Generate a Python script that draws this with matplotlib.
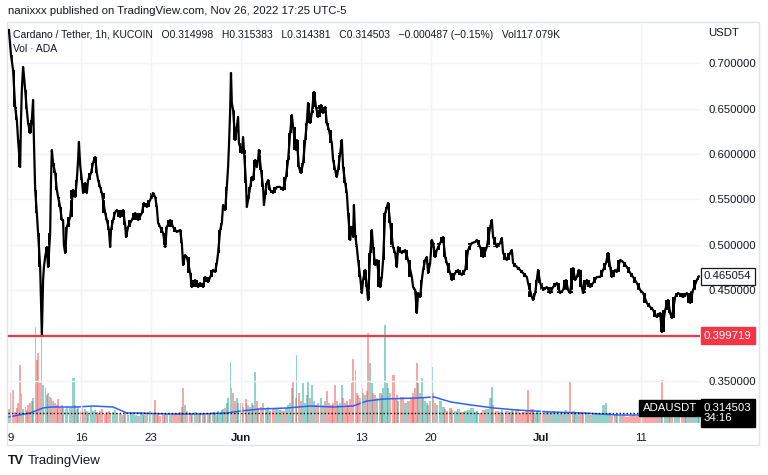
import numpy as np
import matplotlib
matplotlib.use("Agg")
import matplotlib.pyplot as plt
import matplotlib.dates as mdates
from matplotlib.patches import Rectangle
from datetime import datetime, timedelta

plt.rcParams['font.family'] = ['Liberation Sans', 'DejaVu Sans']

start = datetime(2022, 5, 9)

# ADA/USDT 1h, sampled: hours after 2022-05-09 00:00 and close (USDT)
hours = [
    -5, -2, 0, 5, 10, 14, 17, 22, 24, 26, 29, 31, 34, 38, 41, 46,
    50, 53, 55, 58, 62, 65, 70, 72, 74, 77, 79, 82, 86, 89, 94,
    96, 98, 101, 106, 110, 113, 118, 122, 125, 127, 130, 134, 142, 149, 154,
    158, 161, 163, 166, 170, 173, 178, 182, 185, 192, 197, 202, 206, 209, 214,
    218, 226, 230, 235, 238, 240, 245, 250, 254, 262, 269, 274, 276, 281, 290,
    298, 305, 314, 319, 326, 334, 341, 346, 350, 353, 358, 365, 370, 374, 382,
    389, 398, 406, 410, 413, 418, 422, 430, 434, 442, 449, 454, 461, 466, 473,
    478, 485, 490, 494, 497, 502, 506, 509,
    514, 518, 521, 523, 526, 528, 530, 533, 538, 542, 545, 547, 554, 557, 559,
    564, 566, 569, 574, 578, 581, 586, 590, 593, 595, 600,
    605, 607, 610, 614, 617, 622, 629, 638, 646, 653, 660, 665, 670, 674, 677,
    684, 686, 691, 696, 701, 706, 710, 713, 718, 722, 727, 732, 737, 744, 749,
    754, 758, 763, 770, 773, 778, 782, 785, 790, 794, 797, 802, 806, 809, 814,
    816, 818, 821, 823, 826, 830, 833, 838, 842, 845, 850, 854, 857, 862, 866,
    869, 874, 878, 886, 890, 893, 898, 902, 905, 910, 917, 922, 926, 929,
    938, 946, 953, 962, 965, 970, 974, 977, 982, 986, 989, 994, 998, 1001, 1006,
    1010, 1013, 1018, 1022, 1030,
    1037, 1042, 1046, 1054, 1058, 1066, 1073, 1082, 1090, 1097, 1106, 1114, 1118,
    1126, 1133, 1142, 1150, 1154, 1157, 1166, 1174, 1178, 1181, 1190, 1198, 1202,
    1205, 1214, 1222,
    1229, 1238, 1241, 1250, 1253, 1258, 1262, 1265, 1270, 1277, 1286, 1294, 1301,
    1310, 1318, 1325, 1332, 1337, 1342, 1349, 1354, 1358, 1363, 1370, 1373, 1382,
    1390, 1397, 1406, 1414,
    1421, 1428, 1433, 1438, 1442, 1450, 1454, 1462, 1469, 1478, 1486, 1493, 1502,
    1510, 1517, 1526, 1534, 1541, 1550, 1558, 1562, 1570, 1577, 1582, 1586, 1594,
    1601, 1613, 1622, 1630, 1637, 1646, 1651,
]
close = [
    0.7367, 0.7202, 0.7091, 0.6926, 0.6518, 0.6375, 0.6154, 0.5856, 0.6375, 0.6706,
    0.6959, 0.6871, 0.6706, 0.6485, 0.6342, 0.6231,
    0.6375, 0.6595, 0.6154, 0.5603, 0.5349, 0.5129, 0.4754, 0.4390, 0.3997, 0.4610,
    0.4754, 0.4864, 0.4974, 0.4754, 0.5129,
    0.5713, 0.6044, 0.5901, 0.5790, 0.5603, 0.5526, 0.5415, 0.5272, 0.5272, 0.4996,
    0.4908, 0.5195, 0.5305, 0.5603, 0.5526,
    0.5713, 0.5934, 0.6132, 0.5879, 0.5713, 0.5570, 0.5680, 0.5570, 0.5713, 0.5790,
    0.5901, 0.5967, 0.5790, 0.5713, 0.5636, 0.5570, 0.5349, 0.5272, 0.5162, 0.4974,
    0.5162, 0.5272, 0.5360, 0.5382, 0.5305, 0.5382, 0.5217, 0.5085, 0.5195, 0.5272,
    0.5349, 0.5272, 0.5349, 0.5460, 0.5415, 0.5493, 0.5570, 0.5526, 0.5415, 0.5239,
    0.5195, 0.5129, 0.4974, 0.5195, 0.5272, 0.5195, 0.5140, 0.5162, 0.5018, 0.4776,
    0.4886, 0.4864, 0.4688, 0.4533, 0.4610, 0.4533, 0.4577, 0.4533, 0.4644, 0.4588,
    0.4644, 0.4721, 0.4699, 0.4798, 0.4908, 0.5162, 0.5239, 0.5437,
    0.5382, 0.5636, 0.5856, 0.6077, 0.6485, 0.6893, 0.6562, 0.6485, 0.6154, 0.6298,
    0.6408, 0.6121, 0.6011, 0.6187, 0.6044, 0.5680, 0.5415, 0.5493, 0.5636, 0.5746,
    0.5713, 0.5934, 0.5856, 0.5934, 0.6044, 0.5823,
    0.5636, 0.5437, 0.5548, 0.5680, 0.5713, 0.5603, 0.5570, 0.5636, 0.5636, 0.5603,
    0.5746, 0.5934, 0.6231, 0.6430, 0.6298, 0.6044, 0.6154, 0.5856, 0.5790, 0.5901,
    0.6154, 0.6342, 0.6562, 0.6342, 0.6452, 0.6684, 0.6518, 0.6408, 0.6540, 0.6452,
    0.6518, 0.6342, 0.6264, 0.6121, 0.5934, 0.5823, 0.5746, 0.5823, 0.6011, 0.6154,
    0.5856, 0.5680, 0.5570, 0.5349, 0.5052,
    0.5195, 0.5195, 0.5085, 0.5437, 0.5107, 0.4974, 0.4831, 0.4644, 0.4467, 0.4610,
    0.4721, 0.4533, 0.4390, 0.4908, 0.5162, 0.4974, 0.4776, 0.4831, 0.4533, 0.4644,
    0.4831, 0.5349, 0.5415, 0.5460, 0.5239, 0.4974, 0.4908, 0.4754, 0.4974,
    0.4908, 0.4941, 0.4831, 0.4644, 0.4533, 0.4500, 0.4247, 0.4467, 0.4423, 0.4610,
    0.4721, 0.4831, 0.4864, 0.4688, 0.4798, 0.5052, 0.5018, 0.4864, 0.4941, 0.5018,
    0.5085, 0.4864, 0.4798, 0.4688, 0.4610, 0.4688, 0.4721, 0.4666, 0.4721, 0.4941,
    0.5018, 0.5029, 0.5052, 0.4974, 0.4864, 0.4974, 0.5195, 0.5272, 0.5085, 0.4974,
    0.5018, 0.5074, 0.4908, 0.4831, 0.4908, 0.4941, 0.4798, 0.4754, 0.4721,
    0.4688, 0.4644, 0.4577, 0.4423, 0.4390, 0.4467, 0.4610, 0.4721, 0.4577, 0.4500,
    0.4533, 0.4467, 0.4533, 0.4577, 0.4467, 0.4500, 0.4610, 0.4500, 0.4467, 0.4743,
    0.4610, 0.4644, 0.4721, 0.4533, 0.4467, 0.4610, 0.4533, 0.4577, 0.4644, 0.4644,
    0.4721, 0.4798, 0.4908, 0.4754, 0.4644, 0.4721, 0.4699, 0.4831, 0.4809, 0.4754,
    0.4688, 0.4644, 0.4577, 0.4500, 0.4467, 0.4357, 0.4313, 0.4280, 0.4202, 0.4247,
    0.4037, 0.4280, 0.4390, 0.4247, 0.4191, 0.4423, 0.4467, 0.4423, 0.4467, 0.4357,
    0.4500, 0.4610, 0.465054,
]
# volume per sample (millions ADA, relative)
volume = [
    14, 30, 12, 33, 11, 15, 20, 58, 18, 30, 14, 12, 16, 13, 18, 20,
    22, 25, 35, 96, 63, 70, 40, 45, 96, 38, 30, 35, 28, 30, 26,
    30, 25, 22, 20, 18, 24, 16, 18, 15, 20, 14, 16, 15, 45, 18,
    14, 16, 13, 12, 15, 11, 14, 12, 10, 16, 12, 13, 11, 10, 12,
    14, 9, 11, 12, 10, 9, 11, 13, 10, 9, 8, 10, 9, 8, 9,
    8, 7, 9, 8, 10, 12, 9, 23, 8, 9, 7, 8, 10, 9, 8,
    9, 10, 11, 16, 35, 18, 12, 10, 9, 11, 8, 9, 10, 8, 9,
    10, 11, 9, 8, 12, 10, 13, 14,
    15, 20, 25, 30, 61, 56, 35, 30, 22, 25, 20, 18, 20, 16, 51,
    24, 20, 18, 16, 20, 18, 51, 22, 15, 18, 16,
    20, 28, 14, 13, 16, 12, 14, 15, 13, 12, 15, 18, 20, 35, 42,
    25, 68, 30, 22, 40, 20, 28, 42, 25, 38, 22, 18, 20, 25, 18,
    22, 32, 20, 18, 20, 38, 22, 18, 20, 38, 25, 20, 22, 18, 24,
    30, 40, 64, 35, 53, 30, 28, 25, 35, 30, 28, 32, 90, 60, 40,
    30, 28, 25, 30, 28, 35, 98, 40, 35, 30, 48, 25, 28, 22,
    26, 20, 22, 25, 30, 35, 60, 40, 30, 45, 25, 22, 20, 18, 22,
    56, 30, 20, 18, 22,
    16, 14, 12, 15, 13, 12, 14, 11, 12, 13, 15, 11, 12,
    10, 13, 14, 25, 36, 18, 12, 11, 13, 10, 12, 11, 13,
    12, 14, 10,
    11, 12, 33, 14, 12, 10, 11, 13, 10, 9, 11, 10, 12,
    10, 9, 11, 13, 10, 41, 12, 10, 9, 11, 10, 9, 10,
    8, 9, 10, 9,
    18, 20, 10, 8, 7, 8, 9, 7, 8, 6, 7, 8, 7,
    6, 8, 7, 8, 9, 7, 8, 43, 9, 8, 7, 9, 8,
    7, 8, 7, 6, 8, 9, 7,
]
# volume moving average (same units)
ma_hours = [-7, 46, 77, 94, 158, 197, 245, 278, 310, 374, 454, 518, 550, 598, 662,
            718, 773, 821, 854, 895, 974, 1015, 1056, 1104, 1159, 1214, 1296, 1375,
            1454, 1536, 1615, 1651]
ma_vol = [6, 10, 15, 16, 16, 17, 16, 10, 10, 9, 9, 10, 12, 14, 15,
          17, 16, 17, 22, 24, 25, 26, 21, 18, 15, 13, 11, 10,
          8, 8, 9, 8]

tick_dates = ["2022-05-09", "2022-05-16", "2022-05-23", "2022-06-01",
              "2022-06-13", "2022-06-20", "2022-07-01", "2022-07-11"]
tick_labels = ["9", "16", "23", "Jun", "13", "20", "Jul", "11"]
price_ticks = [0.35, 0.45, 0.50, 0.55, 0.60, 0.65, 0.70]

last_close = 0.465054
support = 0.399719
current = 0.314503

assert len(hours) == len(close) == len(volume)

base = mdates.date2num(start)
t = base + np.array(hours) / 24.0
c = np.array(close)
v = np.array(volume)
gap = np.diff(t)
gap = np.concatenate([[gap[0]], gap])

fig = plt.figure(figsize=(7.68, 4.75), dpi=100)
ax = fig.add_axes([8 / 768, 52 / 475, 692 / 768, 401 / 475])
axv = ax.twinx()
ax.set_zorder(axv.get_zorder() + 1)
ax.patch.set_visible(False)

# volume pane
up = np.concatenate([[True], c[1:] >= c[:-1]])
vcol = np.where(up, '#26a69a', '#ef5350')
axv.bar(t, v, width=gap * 1.0, color=vcol, alpha=0.5, linewidth=0)
axv.plot(base + np.array(ma_hours) / 24.0, ma_vol, color='#2962ff', lw=1.1)
axv.set_ylim(0, 401)
axv.set_yticks([])
for s in axv.spines.values():
    s.set_visible(False)

# candles (open = previous close)
o = np.concatenate([[c[0]], c[:-1]])
lo = np.minimum(o, c)
hi = np.maximum(o, c)
ax.bar(t - gap / 2, hi - lo, bottom=lo, width=gap * 0.8, color='black', linewidth=0)
ax.plot(t, c, color='black', lw=1.6)

ax.axhline(support, color='#f23645', lw=1.6)
ax.axhline(current, color='black', lw=1, ls=(0, (1, 1.5)))

x0 = base - 7.2 / 24
x1 = base + 1653.6 / 24
ax.set_xlim(x0, x1)
ax.set_ylim(0.3034, 0.7455)

ax.yaxis.tick_right()
ax.set_yticks(price_ticks)
ax.set_yticklabels(['%.6f' % p for p in price_ticks])
ax.set_xticks([mdates.date2num(datetime.strptime(d, "%Y-%m-%d")) for d in tick_dates])
ax.set_xticklabels(tick_labels)
for lab in ax.get_xticklabels():
    if lab.get_text() in ("Jun", "Jul"):
        lab.set_fontweight('bold')
ax.tick_params(axis='both', length=0, labelsize=8.2, colors='#131722')
ax.tick_params(axis='x', pad=7)
ax.tick_params(axis='y', pad=6)
ax.grid(True, color='#f0f3fa', lw=1)
for s in ax.spines.values():
    s.set_visible(False)

# price scale labels
ytr = ax.get_yaxis_transform()
ax.text(1.0 + 4 / 692, last_close, '%.6f' % last_close, transform=ytr, va='center',
        ha='left', fontsize=8.2, color='#131722',
        bbox=dict(boxstyle='square,pad=0.28', fc='white', ec='#131722', lw=0.9))
ax.text(1.0 + 4 / 692, support, '%.6f' % support, transform=ytr, va='center',
        ha='left', fontsize=8.2, color='white',
        bbox=dict(boxstyle='square,pad=0.3', fc='#f23645', ec='#f23645'))
ax.text(1.0 + 4 / 692, current, '%.6f\n34:16' % current, transform=ytr, va='center',
        ha='left', fontsize=8.2, color='white', linespacing=1.1,
        bbox=dict(boxstyle='square,pad=0.3', fc='black', ec='black'))
ax.annotate('ADAUSDT', xy=(1.0, current), xycoords=ytr, xytext=(-3, 5),
            textcoords='offset pixels', ha='right', va='center', fontsize=8.2,
            color='white', bbox=dict(boxstyle='square,pad=0.3', fc='black', ec='black'))
ax.text(1.0 + 8 / 692, 1.0 - 11 / 401, 'USDT', transform=ax.transAxes, va='center',
        ha='left', fontsize=8.2, color='#131722')

# header and legend
fig.text(8 / 768, 1 - 11 / 475, 'nanixxx published on TradingView.com, Nov 26, 2022 17:25 UTC-5',
         fontsize=8.2, color='#131722', va='center')
fig.text(13 / 768, 1 - 35 / 475,
         'Cardano / Tether, 1h, KUCOIN   O0.314998   H0.315383   L0.314381   C0.314503   '
         '\u22120.000487 (\u22120.15%)   Vol117.079K',
         fontsize=7.5, color='#131722', va='center')
fig.text(13 / 768, 1 - 49 / 475, 'Vol \u00b7 ADA', fontsize=7.5, color='#131722', va='center')

fig.add_artist(Rectangle((7 / 768, 30 / 475), 752 / 768, 423 / 475, transform=fig.transFigure,
                         fill=False, ec='#e0e3eb', lw=1))

fig.text(8 / 768, 1 - 461 / 475, 'TV', fontsize=9, fontweight='heavy', color='#131722', va='center')
fig.text(28 / 768, 1 - 461 / 475, 'TradingView', fontsize=9.5, color='#131722', va='center')

fig.savefig('out.png', dpi=100)
